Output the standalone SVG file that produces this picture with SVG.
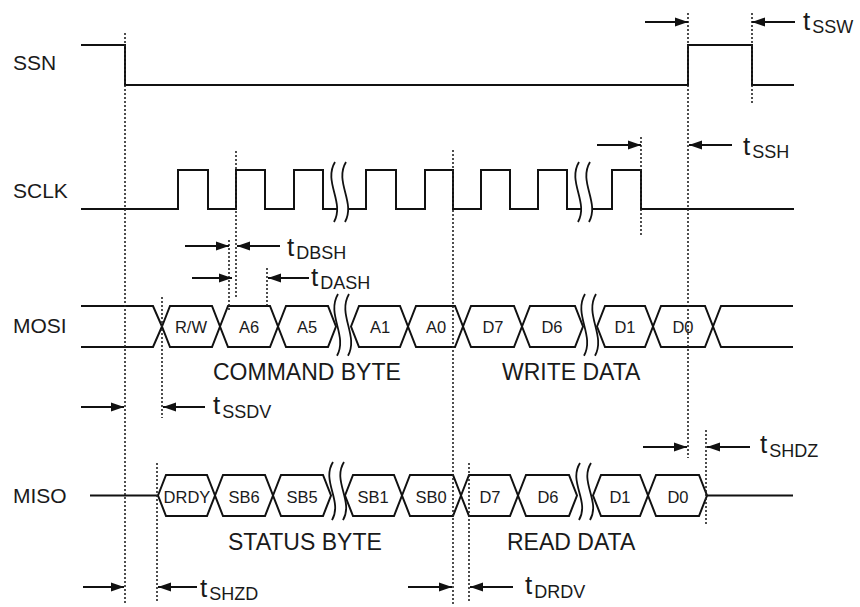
<svg xmlns="http://www.w3.org/2000/svg" width="860" height="607" viewBox="0 0 860 607">
<style>
text{font-family:"Liberation Sans",Arial,sans-serif;fill:#1a1a1a}
.sig{font-size:21px}
.bus{font-size:16.5px;text-anchor:middle}
.big{font-size:23px}
.t{font-size:26px}
.sub{font-size:18px}
.w{fill:none;stroke:#111;stroke-width:2;stroke-linejoin:miter}
.dot{fill:none;stroke:#222;stroke-width:1.6;stroke-dasharray:2 2}
.arr{fill:none;stroke:#111;stroke-width:2;marker-end:url(#ah)}
.brk{fill:none;stroke:#111;stroke-width:1.8}
</style>
<defs>
<marker id="ah" markerUnits="userSpaceOnUse" markerWidth="14" markerHeight="10" refX="13" refY="5" orient="auto">
<path d="M0,0.5 L13,5 L0,9.5 z" fill="#111"/>
</marker>
<g id="brk">
<path d="M-5,0 C-17,20 5,40 -6,60 L5,60 C16,40 -6,20 6,0 Z" fill="#fff" stroke="none"/>
<path class="brk" d="M-5,0 C-17,20 5,40 -6,60"/>
<path class="brk" d="M6,0 C-6,20 16,40 5,60"/>
</g>
</defs>

<g id="labels">
<text class="sig" x="13" y="70">SSN</text>
<text class="sig" x="13" y="198">SCLK</text>
<text class="sig" x="13" y="333">MOSI</text>
<text class="sig" x="13" y="503">MISO</text>
</g>

<g id="ssn">
<path class="w" d="M81,45 H125 V85 H688 V45 H752 V85 H794"/>
</g>

<g id="sclk">
<path class="w" d="M81,209 H178 V170 H208 V209 H236 V170 H265 V209 H294 V170 H323 V209 H366 V170 H396 V209 H425 V170 H453 V209 H481 V170 H510 V209 H538 V170 H567 V209 H612 V170 H641 V209 H794"/>
<use href="#brk" transform="translate(340,162)"/>
<use href="#brk" transform="translate(584,162)"/>
</g>

<g id="mosi">
<path class="w" d="M81,306 H153 L162,326.5 L153,347 H81"/>
<path class="w" d="M162,326.5 L170,306 H212 L220,326.5 L212,347 H170 Z"/>
<path class="w" d="M220,326.5 L228,306 H270 L278,326.5 L270,347 H228 Z"/>
<path class="w" d="M278,326.5 L286,306 H328 L336,326.5 L328,347 H286 Z"/>
<path class="w" d="M351,326.5 L359,306 H400 L408,326.5 L400,347 H359 Z"/>
<path class="w" d="M408,326.5 L416,306 H455 L463,326.5 L455,347 H416 Z"/>
<path class="w" d="M463,326.5 L471,306 H514 L522,326.5 L514,347 H471 Z"/>
<path class="w" d="M522,326.5 L530,306 H575 L583,326.5 L575,347 H530 Z"/>
<path class="w" d="M597,326.5 L605,306 H645 L653,326.5 L645,347 H605 Z"/>
<path class="w" d="M653,326.5 L661,306 H705 L713,326.5 L705,347 H661 Z"/>
<path class="w" d="M713,326.5 L721,306 H793 M713,326.5 L721,347 H793"/>
<use href="#brk" transform="translate(343,294) scale(1,1.03)"/>
<use href="#brk" transform="translate(590,294) scale(1,1.03)"/>
<text class="bus" x="191" y="333">R/W</text>
<text class="bus" x="249" y="333">A6</text>
<text class="bus" x="307" y="333">A5</text>
<text class="bus" x="380" y="333">A1</text>
<text class="bus" x="436" y="333">A0</text>
<text class="bus" x="493" y="333">D7</text>
<text class="bus" x="552" y="333">D6</text>
<text class="bus" x="625" y="333">D1</text>
<text class="bus" x="683" y="333">D0</text>
<text class="big" x="213" y="380">COMMAND BYTE</text>
<text class="big" x="502" y="380">WRITE DATA</text>
</g>

<g id="miso">
<path class="w" d="M90,495.5 H158"/>
<path class="w" d="M158,495.5 L166,475 H207 L215,495.5 L207,516 H166 Z"/>
<path class="w" d="M215,495.5 L223,475 H265 L273,495.5 L265,516 H223 Z"/>
<path class="w" d="M273,495.5 L281,475 H323 L331,495.5 L323,516 H281 Z"/>
<path class="w" d="M345,495.5 L353,475 H394 L402,495.5 L394,516 H353 Z"/>
<path class="w" d="M402,495.5 L410,475 H453 L461,495.5 L453,516 H410 Z"/>
<path class="w" d="M461,495.5 L469,475 H510 L518,495.5 L510,516 H469 Z"/>
<path class="w" d="M518,495.5 L526,475 H569 L577,495.5 L569,516 H526 Z"/>
<path class="w" d="M593,495.5 L601,475 H640 L648,495.5 L640,516 H601 Z"/>
<path class="w" d="M648,495.5 L656,475 H699 L707,495.5 L699,516 H656 Z"/>
<path class="w" d="M707,495.5 H793"/>
<use href="#brk" transform="translate(338,462) scale(1,0.97)"/>
<use href="#brk" transform="translate(585,463) scale(1,0.95)"/>
<text class="bus" x="187" y="503">DRDY</text>
<text class="bus" x="244" y="503">SB6</text>
<text class="bus" x="302" y="503">SB5</text>
<text class="bus" x="373" y="503">SB1</text>
<text class="bus" x="431" y="503">SB0</text>
<text class="bus" x="490" y="503">D7</text>
<text class="bus" x="548" y="503">D6</text>
<text class="bus" x="620" y="503">D1</text>
<text class="bus" x="678" y="503">D0</text>
<text class="big" x="228" y="550">STATUS BYTE</text>
<text class="big" x="507" y="550">READ DATA</text>
</g>

<g id="connectors">
<path class="dot" d="M125,33 V605"/>
<path class="dot" d="M688,13 V458"/>
<path class="dot" d="M752,13 V105"/>
<path class="dot" d="M236,151 V297"/>
<path class="dot" d="M229,240 V310"/>
<path class="dot" d="M267,268 V306"/>
<path class="dot" d="M453,150 V605"/>
<path class="dot" d="M641,137 V235"/>
<path class="dot" d="M162,297 V418"/>
<path class="dot" d="M157,463 V603"/>
<path class="dot" d="M469,463 V603"/>
<path class="dot" d="M706,430 V525"/>

<path class="arr" d="M645,22 H688"/>
<path class="arr" d="M795,22 H752"/>
<path class="arr" d="M597,145 H641"/>
<path class="arr" d="M732,145 H689"/>
<path class="arr" d="M185,246 H229"/>
<path class="arr" d="M280,246 H237"/>
<path class="arr" d="M192,278 H232"/>
<path class="arr" d="M309,278 H268"/>
<path class="arr" d="M81,407 H124"/>
<path class="arr" d="M205,407 H163"/>
<path class="arr" d="M643,447 H687"/>
<path class="arr" d="M750,447 H707"/>
<path class="arr" d="M83,587 H124"/>
<path class="arr" d="M197,587 H158"/>
<path class="arr" d="M408,587 H452"/>
<path class="arr" d="M513,587 H470"/>
</g>

<g id="timing-labels">
<text class="t" x="803" y="30">t<tspan class="sub" dx="2" dy="3">SSW</tspan></text>
<text class="t" x="743" y="155">t<tspan class="sub" dx="2" dy="3">SSH</tspan></text>
<text class="t" x="287" y="256">t<tspan class="sub" dx="2" dy="3">DBSH</tspan></text>
<text class="t" x="311" y="286">t<tspan class="sub" dx="2" dy="3">DASH</tspan></text>
<text class="t" x="213" y="414">t<tspan class="sub" dx="2" dy="4">SSDV</tspan></text>
<text class="t" x="760" y="453">t<tspan class="sub" dx="2" dy="4">SHDZ</tspan></text>
<text class="t" x="200" y="597">t<tspan class="sub" dx="2" dy="3">SHZD</tspan></text>
<text class="t" x="525" y="594">t<tspan class="sub" dx="2" dy="4">DRDV</tspan></text>
</g>
</svg>
